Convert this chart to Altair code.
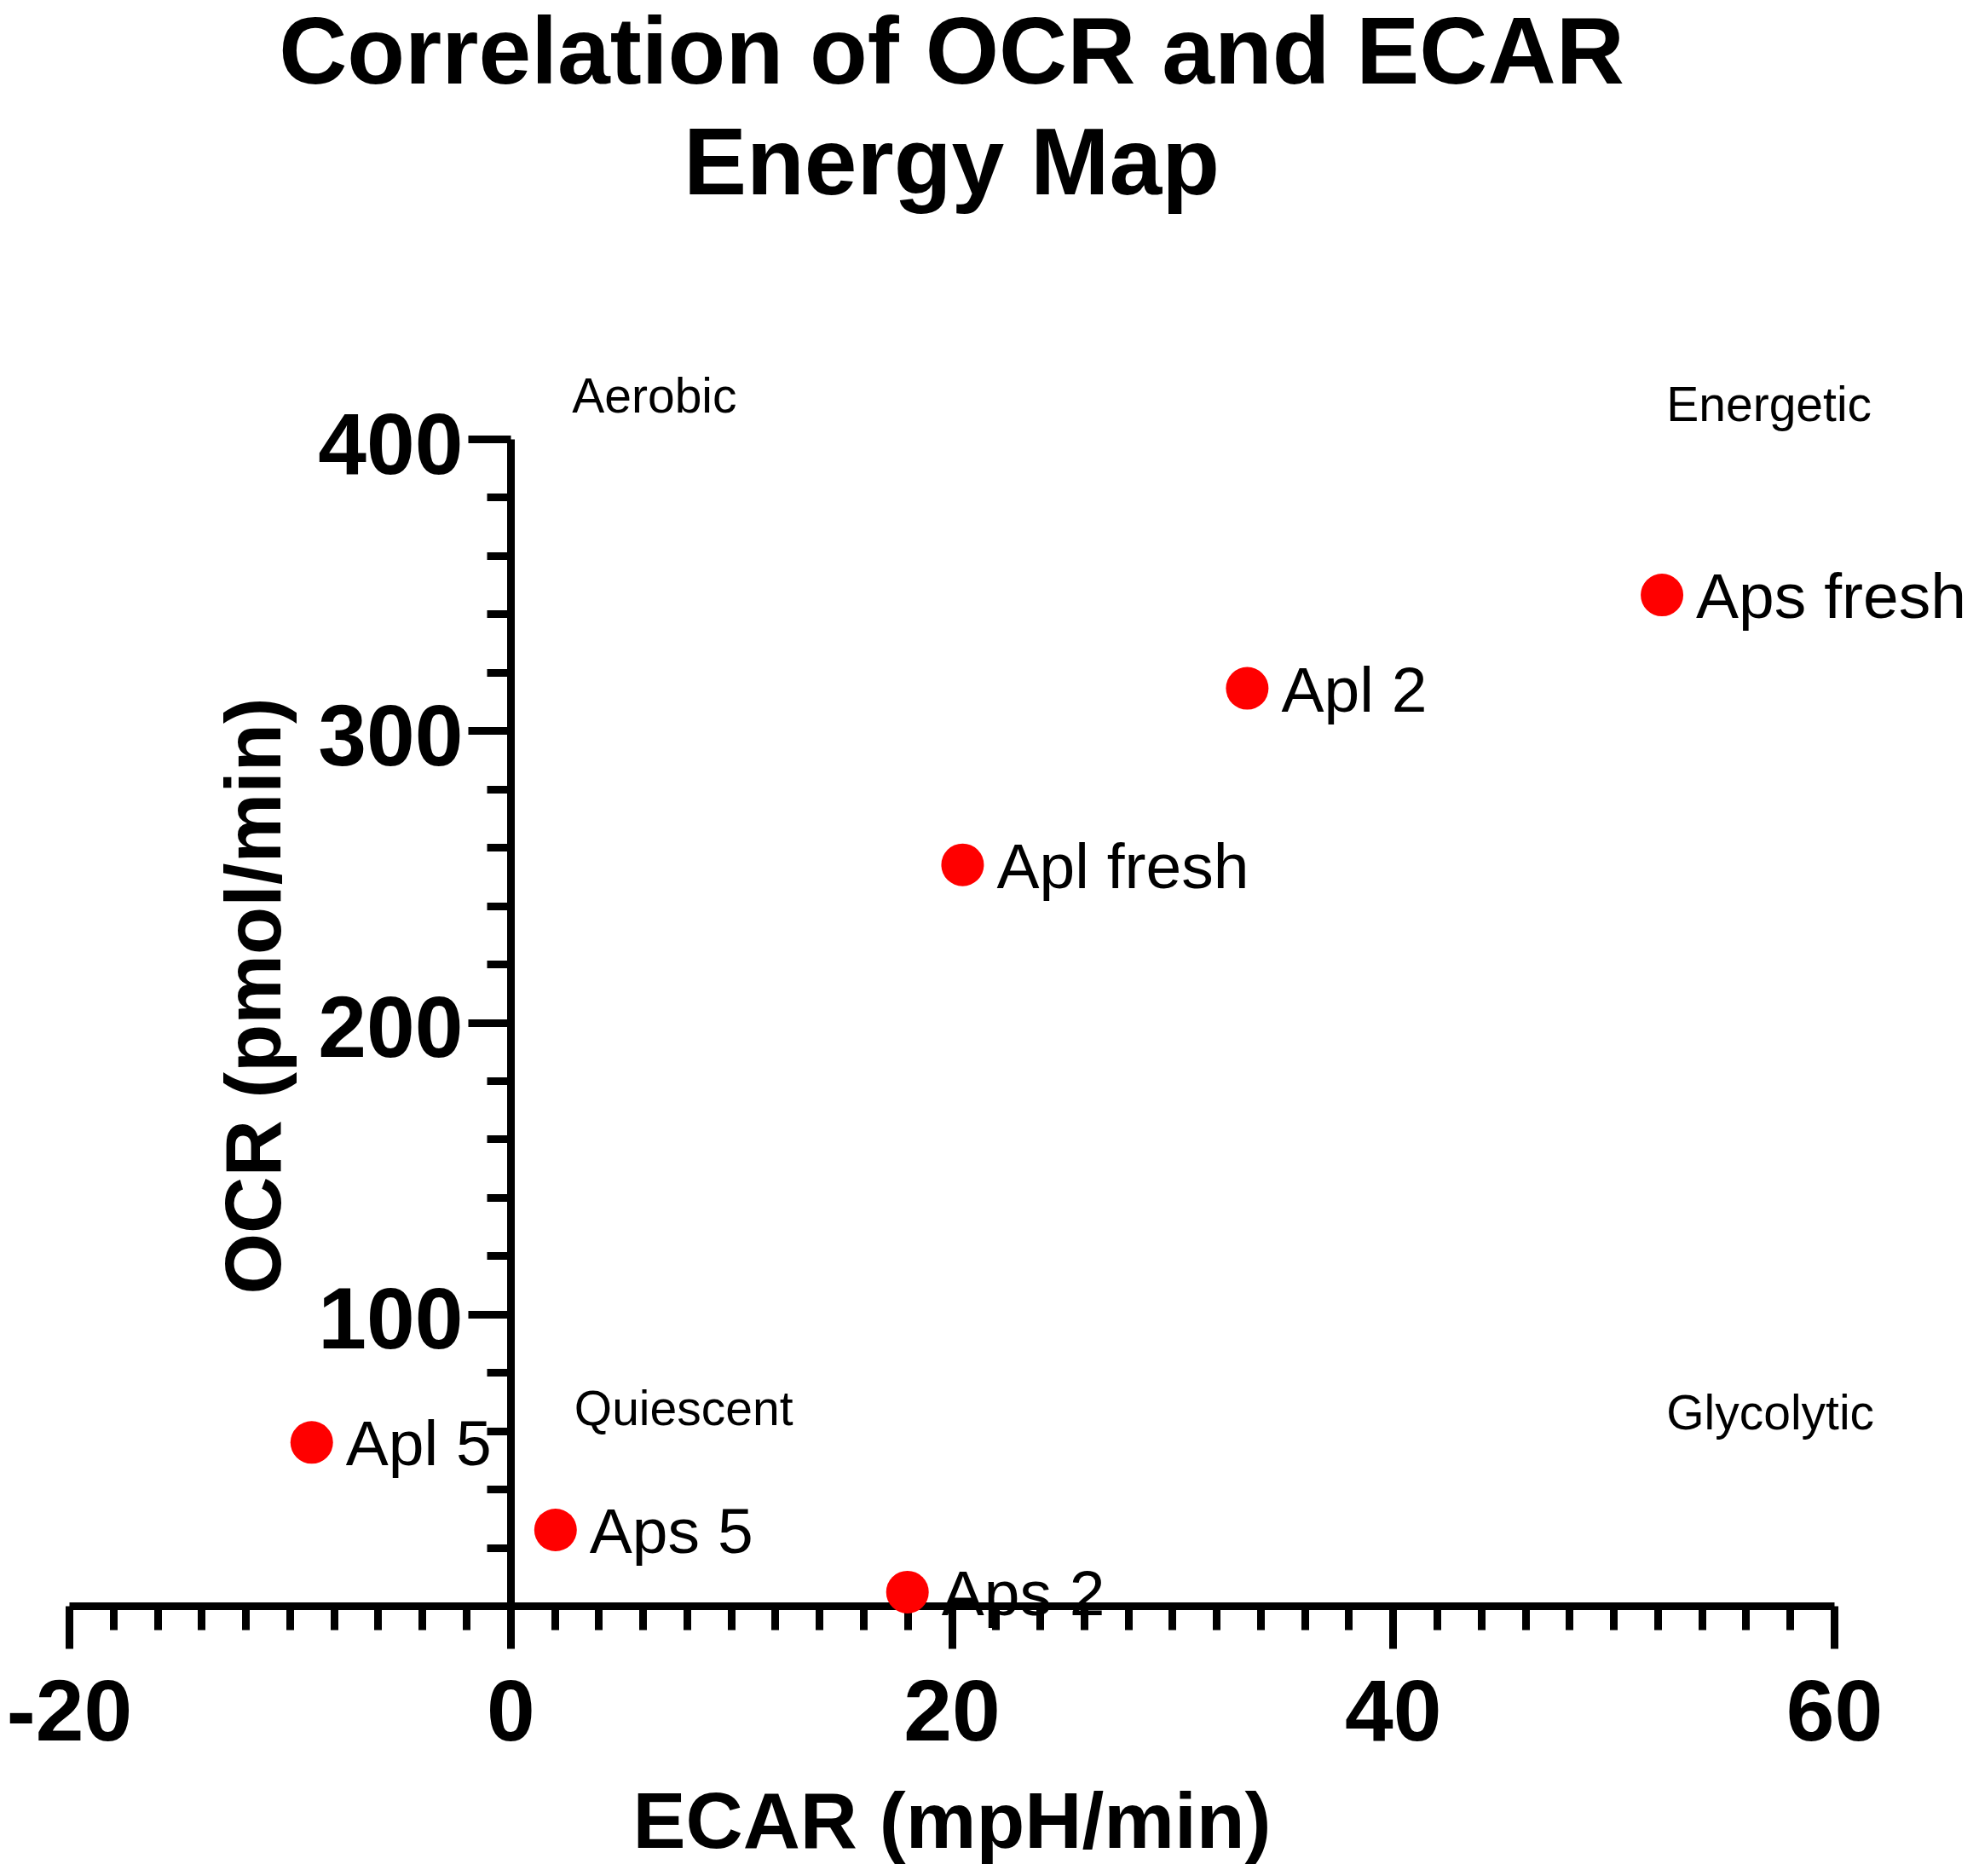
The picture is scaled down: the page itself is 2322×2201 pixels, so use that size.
import altair as alt
import pandas as pd

# ---- data ----
samples = ["Apl fresh", "Apl 2", "Apl 5", "Aps fresh", "Aps 2", "Aps 5"]
ecar = [20.5, 33.4, -9.0, 52.2, 18.0, 2.05]
ocr = [254.0, 314.5, 56.0, 346.5, 4.7, 26.0]

quadrants = ["Aerobic", "Energetic", "Quiescent", "Glycolytic"]
quad_x = [2.8, 52.4, 2.9, 52.4]
quad_y = [415.0, 412.0, 67.7, 66.3]

x_tick_values = list(range(-20, 62, 2))
y_tick_values = list(range(0, 410, 10))

FONT = "Liberation Sans"

pts = pd.DataFrame({"sample": samples, "ecar": ecar, "ocr": ocr})
quad = pd.DataFrame({"label": quadrants, "x": quad_x, "y": quad_y})

x_scale = alt.Scale(domain=[-20, 60], nice=False, zero=False, padding=0)
y_scale = alt.Scale(domain=[0, 400], nice=False, zero=False, padding=0)

x_axis = alt.Axis(
    values=x_tick_values,
    labelExpr="datum.value % 20 === 0 ? '' + datum.value : ''",
    tickSize={"condition": {"test": "datum.value % 20 !== 0", "value": 28}, "value": 50},
    tickWidth=9, tickColor="black", tickCap="butt",
    domainWidth=9, domainColor="black",
    labelFont=FONT, labelFontSize=102, labelFontWeight="bold", labelColor="black",
    labelPadding=26, labelFlush=False, labelOverlap=False,
    grid=False,
    title="ECAR (mpH/min)", titleFont=FONT, titleFontSize=93, titleFontWeight="bold",
    titleColor="black", titleY=210, titleBaseline="top",
)

y_axis = alt.Axis(
    values=y_tick_values,
    labelExpr="datum.value % 100 === 0 && datum.value > 0 ? '' + datum.value : ''",
    tickSize={"condition": {"test": "datum.value % 100 !== 0", "value": 28}, "value": 50},
    tickWidth=9, tickColor="black", tickCap="butt",
    domainWidth=9, domainColor="black",
    labelFont=FONT, labelFontSize=102, labelFontWeight="bold", labelColor="black",
    labelPadding=6, labelOffset=9, labelFlush=False, labelOverlap=False,
    offset=-518,
    grid=False,
    title="OCR (pmol/min)", titleFont=FONT, titleFontSize=92, titleFontWeight="bold",
    titleColor="black", titleX=-252, titleY=653, titleBaseline="bottom", titleAngle=270,
)

points = alt.Chart(pts).mark_circle(size=2500, color="#FF0000", opacity=1).encode(
    x=alt.X("ecar:Q", scale=x_scale, axis=x_axis),
    y=alt.Y("ocr:Q", scale=y_scale, axis=y_axis),
)

point_labels = alt.Chart(pts).mark_text(
    align="left", baseline="middle", dx=40, dy=4,
    font=FONT, fontSize=75, color="black",
).encode(
    x=alt.X("ecar:Q", scale=x_scale),
    y=alt.Y("ocr:Q", scale=y_scale),
    text="sample:N",
)

quad_labels = alt.Chart(quad).mark_text(
    align="left", baseline="middle", dy=3,
    font=FONT, fontSize=57, color="black",
).encode(
    x=alt.X("x:Q", scale=x_scale),
    y=alt.Y("y:Q", scale=y_scale),
    text="label:N",
)

chart = alt.layer(points, point_labels, quad_labels).properties(
    width=2071,
    height=1369,
    autosize=alt.AutoSizeParams(type="none"),
    padding={"left": 73, "top": 507, "right": 162, "bottom": 309},
    background="white",
    title=alt.TitleParams(
        ["Correlation of OCR and ECAR", "Energy Map"],
        font=FONT, fontSize=111, fontWeight="bold", color="black",
        anchor="middle", frame="group", lineHeight=130, offset=187,
    ),
).configure_view(stroke=None, strokeWidth=0)

chart.save("out.html", embed_options={"renderer": "svg", "actions": False})
